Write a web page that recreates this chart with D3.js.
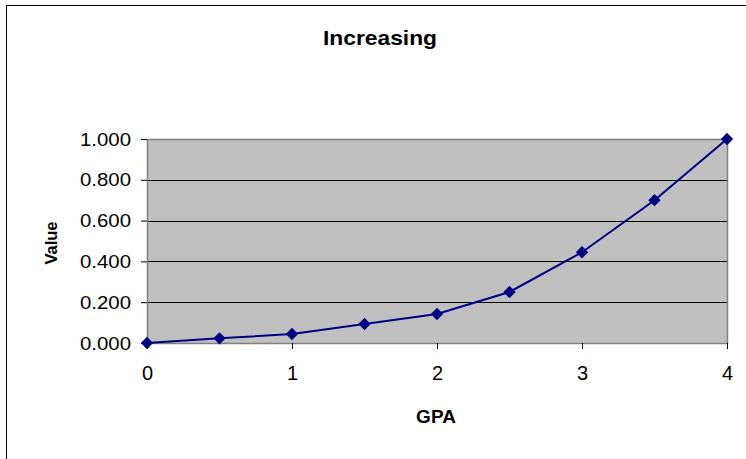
<!DOCTYPE html>
<html>
<head>
<meta charset="utf-8">
<script src="https://cdn.jsdelivr.net/npm/d3@7"></script>
<style>
  html, body { margin: 0; padding: 0; background: #fff; }
  svg { display: block; font-family: "Liberation Sans", Arial, sans-serif; }
</style>
</head>
<body>
<svg id="chart" width="746" height="459"></svg>
<script>
// GPA values along the x axis
const gpa = [0, 0.5, 1, 1.5, 2, 2.5, 3, 3.5, 4];
// Value for each GPA point
const values = [0, 0.023, 0.044, 0.093, 0.142, 0.25, 0.445, 0.70, 1.0];
// Axis ticks
const xTicks = [0, 1, 2, 3, 4];
const yTicks = [0, 0.2, 0.4, 0.6, 0.8, 1.0];

const svg = d3.select("#chart");

// Outer chart frame
svg.append("rect")
  .attr("x", 6.5).attr("y", 5.5)
  .attr("width", 746).attr("height", 460)
  .attr("fill", "#fff").attr("stroke", "#000").attr("stroke-width", 1);

const plot = { left: 147, right: 727, top: 139, bottom: 343 };

const x = d3.scaleLinear().domain([0, 4]).range([plot.left, plot.right]);
const y = d3.scaleLinear().domain([0, 1]).range([plot.bottom, plot.top]);

// Plot area background
svg.append("rect")
  .attr("x", plot.left).attr("y", plot.top)
  .attr("width", plot.right - plot.left).attr("height", plot.bottom - plot.top)
  .attr("fill", "#c0c0c0");

// Horizontal gridlines
svg.append("g")
  .selectAll("line")
  .data(yTicks.filter(d => d > 0 && d < 1))
  .join("line")
  .attr("x1", plot.left).attr("x2", plot.right)
  .attr("y1", d => Math.round(y(d)) + 0.5).attr("y2", d => Math.round(y(d)) + 0.5)
  .attr("stroke", "#000").attr("stroke-width", 1);

// Plot area border (top and right)
svg.append("path")
  .attr("d", `M${plot.left},${plot.top + 0.5}H${plot.right + 0.5}V${plot.bottom}`)
  .attr("fill", "none").attr("stroke", "#808080").attr("stroke-width", 1.5);

const tickFont = 19;

// Y axis
const yAxis = d3.axisLeft(y)
  .tickValues(yTicks)
  .tickFormat(d3.format(".3f"))
  .tickSizeInner(6).tickSizeOuter(0).tickPadding(10);
const gy = svg.append("g")
  .attr("transform", `translate(${plot.left},0)`)
  .call(yAxis);
gy.select(".domain").attr("stroke", "#808080").attr("stroke-width", 1.5);
gy.selectAll(".tick line").attr("stroke", "#000");
gy.selectAll(".tick text")
  .attr("font-size", tickFont).attr("fill", "#000")
  .attr("font-family", "'Liberation Sans', Arial, sans-serif")
  .attr("textLength", 51).attr("lengthAdjust", "spacingAndGlyphs");

// X axis
const xAxis = d3.axisBottom(x)
  .tickValues(xTicks)
  .tickFormat(d3.format("d"))
  .tickSizeInner(6).tickSizeOuter(0).tickPadding(17);
const gx = svg.append("g")
  .attr("transform", `translate(0,${plot.bottom})`)
  .call(xAxis);
gx.select(".domain").attr("stroke", "#808080").attr("stroke-width", 1.5);
gx.selectAll(".tick line").attr("stroke", "#000");
gx.selectAll(".tick text")
  .attr("font-size", 20).attr("fill", "#000")
  .attr("font-family", "'Liberation Sans', Arial, sans-serif");

// Data line
const line = d3.line().x((d, i) => x(gpa[i])).y(d => y(d));
svg.append("path")
  .datum(values)
  .attr("d", line)
  .attr("fill", "none")
  .attr("stroke", "#000080")
  .attr("stroke-width", 2);

// Diamond markers
const diamond = d3.symbol().type(d3.symbolSquare).size(76);
svg.append("g")
  .selectAll("path")
  .data(values)
  .join("path")
  .attr("d", diamond)
  .attr("transform", (d, i) => `translate(${x(gpa[i])},${y(d)}) rotate(45)`)
  .attr("fill", "#000080");

// Title
svg.append("text")
  .attr("x", 380).attr("y", 45)
  .attr("text-anchor", "middle")
  .attr("font-size", 21).attr("font-weight", "bold")
  .attr("textLength", 114).attr("lengthAdjust", "spacingAndGlyphs")
  .text("Increasing");

// Axis titles
svg.append("text")
  .attr("x", 436).attr("y", 423)
  .attr("text-anchor", "middle")
  .attr("font-size", 19).attr("font-weight", "bold")
  .text("GPA");

svg.append("text")
  .attr("transform", "translate(57,243) rotate(-90)")
  .attr("text-anchor", "middle")
  .attr("font-size", 16.5).attr("font-weight", "bold")
  .text("Value");
</script>
</body>
</html>
